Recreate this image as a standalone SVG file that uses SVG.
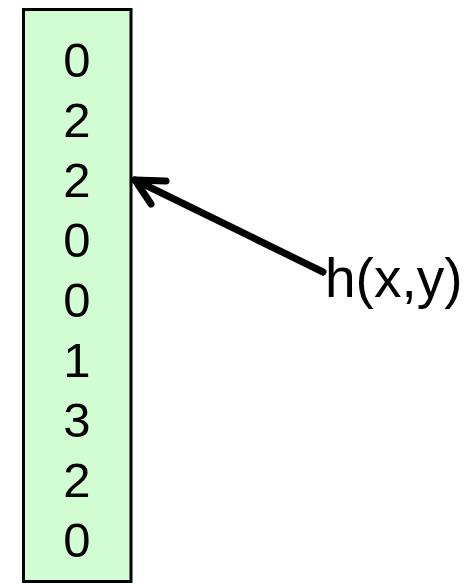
<svg xmlns="http://www.w3.org/2000/svg" width="471" height="584" viewBox="0 0 471 584">
<style>
.num{font-family:"Liberation Sans",Arial,sans-serif;font-size:49px;fill:#000;text-anchor:middle}
.lbl{font-family:"Liberation Sans",Arial,sans-serif;font-size:55px;fill:#000}
.conn{fill:none;stroke:#000;stroke-width:7;stroke-linecap:round;stroke-linejoin:round}
</style>
<rect width="471" height="584" fill="#fff"/>
<g id="array">
<rect x="23.5" y="9.5" width="107.5" height="572" fill="#d2fcd2" stroke="#000" stroke-width="3"/>
<text class="num" x="77" y="77">0</text>
<text class="num" x="77" y="137">2</text>
<text class="num" x="77" y="197">2</text>
<text class="num" x="77" y="257">0</text>
<text class="num" x="77" y="317">0</text>
<text class="num" x="77" y="377">1</text>
<text class="num" x="77" y="437">3</text>
<text class="num" x="77" y="497">2</text>
<text class="num" x="77" y="557">0</text>
</g>
<g id="label">
<text class="lbl" x="325" y="297">h(x,y)</text>
</g>
<g id="connectors">
<path class="conn" d="M323,272 L135,180"/>
<path class="conn" d="M166,181 L135,180 L151,204"/>
</g>
</svg>
